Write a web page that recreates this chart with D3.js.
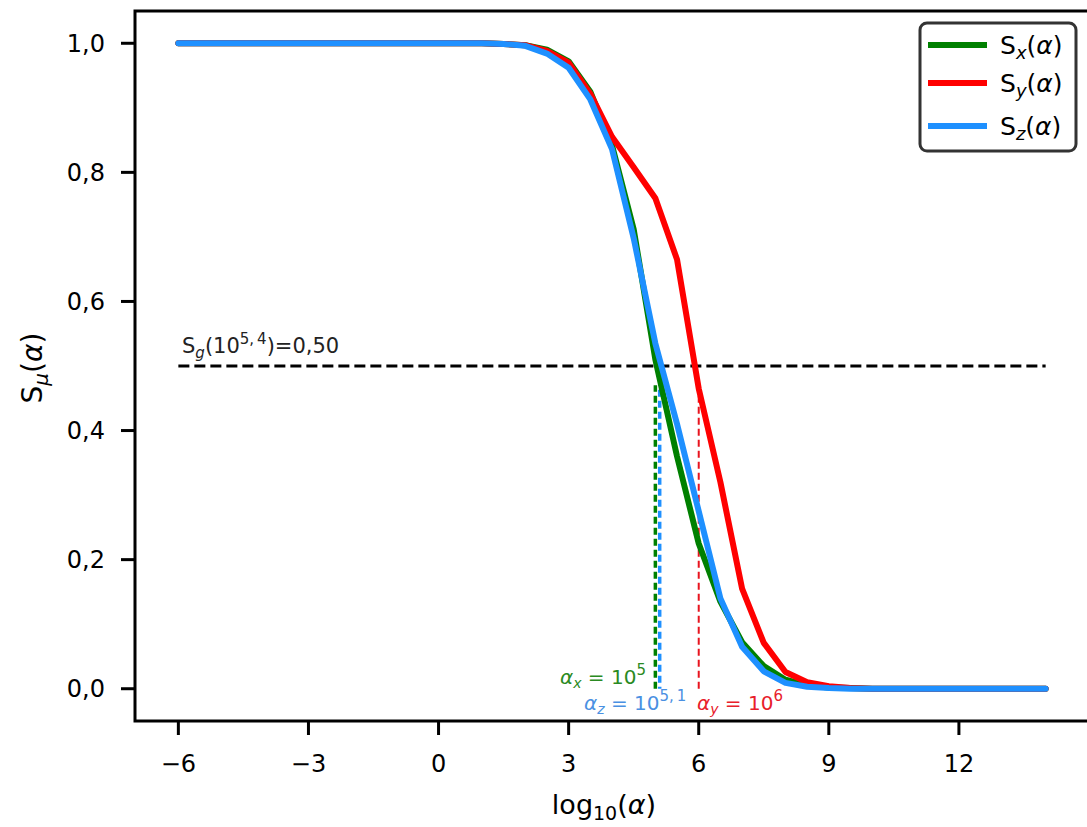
<!DOCTYPE html>
<html>
<head>
<meta charset="utf-8">
<script src="https://cdn.jsdelivr.net/npm/d3@7"></script>
<style>
  body { margin: 0; background: #fff; }
  svg { font-family: "DejaVu Sans", sans-serif; }
</style>
</head>
<body>
<svg id="chart" width="1087" height="827"></svg>
<script>
// log10(alpha) sample points
const logAlpha = [-6, -5.5, -5, -4.5, -4, -3.5, -3, -2.5, -2, -1.5, -1, -0.5, 0, 0.5, 1,
  1.5, 2, 2.5, 3, 3.5, 4, 4.5, 5, 5.5, 6, 6.5, 7, 7.5, 8, 8.5, 9, 9.5, 10,
  10.5, 11, 11.5, 12, 12.5, 13, 13.5, 14];

const sx = [1, 1, 1, 1, 1, 1, 1, 1, 1, 1, 1, 1, 1, 1, 1,
  0.999, 0.997, 0.990, 0.972, 0.925, 0.842, 0.712, 0.510, 0.360, 0.225, 0.135, 0.072, 0.035, 0.014, 0.005, 0.002, 0.001, 0,
  0, 0, 0, 0, 0, 0, 0, 0];

const sy = [1, 1, 1, 1, 1, 1, 1, 1, 1, 1, 1, 1, 1, 1, 1,
  0.999, 0.997, 0.988, 0.970, 0.922, 0.855, 0.808, 0.760, 0.665, 0.465, 0.320, 0.155, 0.071, 0.026, 0.010, 0.004, 0.001, 0,
  0, 0, 0, 0, 0, 0, 0, 0];

const sz = [1, 1, 1, 1, 1, 1, 1, 1, 1, 1, 1, 1, 1, 1, 1,
  0.999, 0.996, 0.984, 0.962, 0.913, 0.836, 0.698, 0.535, 0.410, 0.275, 0.140, 0.065, 0.027, 0.009, 0.003, 0.001, 0, 0,
  0, 0, 0, 0, 0, 0, 0, 0];

const xTicks = [-6, -3, 0, 3, 6, 9, 12];
const yTicks = [0, 0.2, 0.4, 0.6, 0.8, 1.0];

// thresholds: log10(alpha) where S = 0.5
const thresholds = [
  { name: "x", value: 5, color: "green" },
  { name: "z", value: 5.1, color: "#1e90ff" },
  { name: "y", value: 6, color: "#e8141e" }
];
const globalLevel = 0.5;

const series = [
  { key: "x", values: sx, color: "green" },
  { key: "y", values: sy, color: "red" },
  { key: "z", values: sz, color: "#1e90ff" }
];

const svg = d3.select("#chart");
const plotLeft = 135, plotRight = 1089, plotTop = 11, plotBottom = 721;

const x = d3.scaleLinear().domain([-7, 15]).range([plotLeft, plotRight]);
const y = d3.scaleLinear().domain([-0.05, 1.05]).range([plotBottom, plotTop]);

// horizontal reference line
svg.append("line")
  .attr("x1", x(-6)).attr("x2", x(14))
  .attr("y1", y(globalLevel)).attr("y2", y(globalLevel))
  .attr("stroke", "black").attr("stroke-width", 3)
  .attr("stroke-dasharray", "11,5");

svg.append("text")
  .attr("x", 182).attr("y", 353)
  .attr("font-size", 21).attr("fill", "#222")
  .call(t => {
    t.append("tspan").text("S");
    t.append("tspan").attr("font-size", 15).attr("font-style", "italic").attr("dy", 5).text("g");
    t.append("tspan").attr("dy", -5).text("(10");
    t.append("tspan").attr("font-size", 15).attr("dy", -9).text("5,\u20094");
    t.append("tspan").attr("dy", 9).text(")=0,50");
  });

// vertical dashed lines
thresholds.forEach(d => {
  svg.append("line")
    .attr("x1", x(d.value)).attr("x2", x(d.value))
    .attr("y1", y(0)).attr("y2", y(0.47))
    .attr("stroke", d.color)
    .attr("stroke-width", d.name === "y" ? 2 : 3.5)
    .attr("stroke-dasharray", "7,4")
    .attr("stroke-dashoffset", d.name === "z" ? 5 : 0);
});

// curves
const line = d3.line()
  .x((d, i) => x(logAlpha[i]))
  .y(d => y(d));

svg.append("g").selectAll("path")
  .data(series)
  .join("path")
  .attr("d", d => line(d.values))
  .attr("fill", "none")
  .attr("stroke", d => d.color)
  .attr("stroke-width", 6)
  .attr("stroke-linejoin", "round")
  .attr("stroke-linecap", "round");

// threshold annotations
function alphaLabel(g, sub, sup, xPos, yPos, color) {
  const t = g.append("text")
    .attr("x", xPos).attr("y", yPos)
    .attr("font-size", 20).attr("fill", color);
  t.append("tspan").attr("font-style", "italic").text("α");
  t.append("tspan").attr("font-style", "italic").attr("font-size", 14).attr("dy", 4).text(sub);
  t.append("tspan").attr("dy", -4).text(" = 10");
  t.append("tspan").attr("font-size", 15).attr("dy", -9).text(sup);
}
alphaLabel(svg, "x", "5", 560, 684, "#2a8a22");
alphaLabel(svg, "z", "5,\u20091", 584, 710, "#4a90e2");
alphaLabel(svg, "y", "6", 697, 710, "#e8202a");

// frame
svg.append("rect")
  .attr("x", plotLeft).attr("y", plotTop)
  .attr("width", plotRight - plotLeft).attr("height", plotBottom - plotTop)
  .attr("fill", "none").attr("stroke", "black").attr("stroke-width", 3);

// x axis ticks
const xt = svg.append("g").selectAll("g").data(xTicks).join("g")
  .attr("transform", d => `translate(${x(d)},${plotBottom})`);
xt.append("line").attr("y1", 0).attr("y2", 14).attr("stroke", "black").attr("stroke-width", 3);
xt.append("text").attr("y", 51).attr("text-anchor", "middle").attr("font-size", 24)
  .text(d => d < 0 ? "\u2212" + Math.abs(d) : d);

// y axis ticks
const yt = svg.append("g").selectAll("g").data(yTicks).join("g")
  .attr("transform", d => `translate(${plotLeft},${y(d)})`);
yt.append("line").attr("x1", 0).attr("x2", -14).attr("stroke", "black").attr("stroke-width", 3);
yt.append("text").attr("x", -30).attr("dy", "0.36em").attr("text-anchor", "end").attr("font-size", 24)
  .text(d => d3.format(".1f")(d).replace(".", ","));

// axis labels
svg.append("text")
  .attr("x", 604).attr("y", 814)
  .attr("text-anchor", "middle").attr("font-size", 27)
  .call(t => {
    t.append("tspan").text("log");
    t.append("tspan").attr("font-size", 19).attr("dy", 6).text("10");
    t.append("tspan").attr("dy", -6).text("(");
    t.append("tspan").attr("font-style", "italic").text("α");
    t.append("tspan").text(")");
  });

svg.append("text")
  .attr("transform", "translate(42,368) rotate(-90)")
  .attr("text-anchor", "middle").attr("font-size", 28)
  .call(t => {
    t.append("tspan").text("S");
    t.append("tspan").attr("font-size", 20).attr("font-style", "italic").attr("dy", 6).text("μ");
    t.append("tspan").attr("dy", -6).text("(");
    t.append("tspan").attr("font-style", "italic").text("α");
    t.append("tspan").text(")");
  });

// legend
const legend = svg.append("g").attr("transform", "translate(920,23)");
legend.append("rect")
  .attr("width", 156).attr("height", 128).attr("rx", 7)
  .attr("fill", "white").attr("stroke", "#333").attr("stroke-width", 3);
const rowY = [22, 60, 103];
const items = legend.selectAll("g.item").data(series).join("g")
  .attr("class", "item")
  .attr("transform", (d, i) => `translate(0,${rowY[i]})`);
items.append("line")
  .attr("x1", 8).attr("x2", 67)
  .attr("stroke", d => d.color).attr("stroke-width", 6);
items.append("text")
  .attr("x", 80).attr("dy", "0.35em").attr("font-size", 25)
  .call(t => {
    t.append("tspan").text("S");
    t.append("tspan").attr("font-size", 18).attr("font-style", "italic").attr("dy", 5).text(d => d.key);
    t.append("tspan").attr("dy", -5).text("(");
    t.append("tspan").attr("font-style", "italic").text("α");
    t.append("tspan").text(")");
  });
</script>
</body>
</html>
